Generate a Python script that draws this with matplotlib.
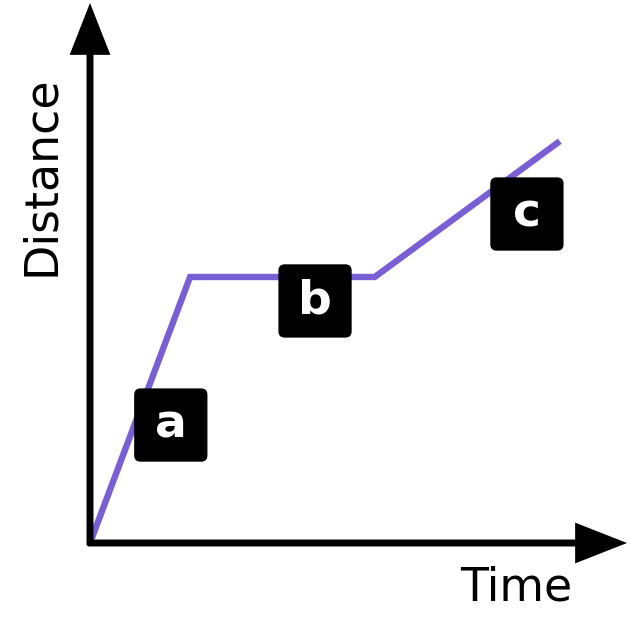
import matplotlib
matplotlib.use("Agg")
import matplotlib.pyplot as plt
from matplotlib.patches import FancyBboxPatch

# Data
time = [0, 2.13, 6.06, 10.0]
distance = [0, 5.66, 5.66, 8.55]
labels = ["a", "b", "c"]
label_x = [1.72, 4.79, 9.30]
label_y = [2.51, 5.15, 7.00]
x_label = "Time"
y_label = "Distance"

PURPLE = "#7a5fd4"

fig = plt.figure(figsize=(6.4, 6.2), dpi=100)
ax = fig.add_axes([90 / 640, 77 / 620, 537 / 640, 540 / 620])
xmax, ymax = 11.43, 11.49
ax.set_xlim(0, xmax)
ax.set_ylim(0, ymax)
ax.axis("off")

ax.plot(time, distance, color=PURPLE, lw=4.6, solid_capstyle="butt",
        solid_joinstyle="miter", zorder=2, clip_on=False)

arrow_kw = dict(arrowstyle="-|>,head_length=2.8,head_width=1.1",
                lw=5, color="black", shrinkA=0, shrinkB=0,
                mutation_scale=10, joinstyle="miter", capstyle="butt")
ax.annotate("", xy=(xmax, 0), xytext=(-0.05, 0), arrowprops=arrow_kw,
            annotation_clip=False, zorder=3)
ax.annotate("", xy=(0, ymax), xytext=(0, -0.05), arrowprops=arrow_kw,
            annotation_clip=False, zorder=3)

box = 1.53
for lab, lx, ly in zip(labels, label_x, label_y):
    p = FancyBboxPatch((lx - box / 2, ly - box / 2), box, box,
                       boxstyle="round,pad=0,rounding_size=0.12",
                       facecolor="black", edgecolor="black", lw=1, zorder=4)
    ax.add_patch(p)
    ax.text(lx, ly, lab, color="white", fontsize=34, fontweight="bold",
            ha="center", va="center", zorder=5, family="DejaVu Sans")

fig.text(516 / 640, 1 - 588 / 620, x_label, fontsize=33, ha="center",
         va="center", family="DejaVu Sans")
fig.text(42 / 640, 1 - 176 / 620, y_label, fontsize=33, ha="center",
         va="center", rotation=90, family="DejaVu Sans")

fig.savefig("out.png", dpi=100, facecolor="white")
